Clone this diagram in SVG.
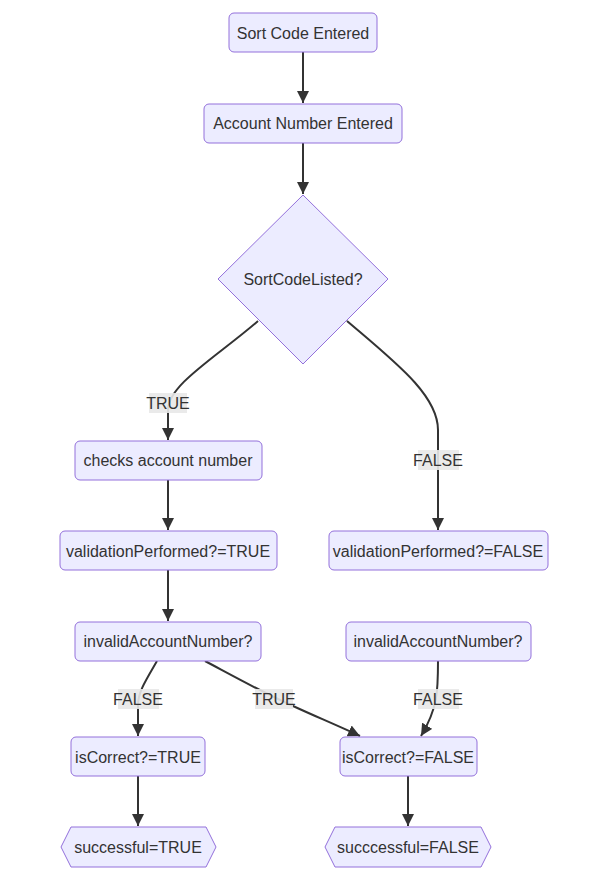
<svg xmlns="http://www.w3.org/2000/svg" width="601" height="881" viewBox="0 0 601 881">
<defs>
<marker id="arrow" viewBox="0 0 10 10" refX="10" refY="5" markerUnits="userSpaceOnUse" markerWidth="12" markerHeight="12" orient="auto">
<path d="M0,0 L10,5 L0,10 z" fill="#333333"/>
</marker>
</defs>
<style>
.node rect, .node polygon { fill: #ECECFF; stroke: #9370DB; stroke-width: 1; }
.node text { font-family: "Liberation Sans", Arial, sans-serif; font-size: 16px; fill: #333333; text-anchor: middle; dominant-baseline: central; }
.edge { fill: none; stroke: #333333; stroke-width: 2; marker-end: url(#arrow); }
.lbl rect { fill: #E8E8E8; opacity: 0.9; }
.lbl text { font-family: "Liberation Sans", Arial, sans-serif; font-size: 16px; fill: #333333; text-anchor: middle; dominant-baseline: central; }
</style>
<rect width="601" height="881" fill="#ffffff"/>
<g id="edges">
<path class="edge" d="M303,52 L303,103"/>
<path class="edge" d="M303,143 L303,194"/>
<path class="edge" d="M258,321 C215,358 168,385 168,410 L168,440"/>
<path class="edge" d="M347,321 C395,362 438,395 438,430 L438,530"/>
<path class="edge" d="M168,480 L168,530"/>
<path class="edge" d="M168,570 L168,621"/>
<path class="edge" d="M157,661 C146,680 138,692 138,705 L138,736"/>
<path class="edge" d="M205,661 C235,677 255,688 274,697 C300,710 330,722 360,736"/>
<path class="edge" d="M438,661 C438,690 438,708 421,736"/>
<path class="edge" d="M138,776 L138,826"/>
<path class="edge" d="M408,776 L408,826"/>
</g>
<g id="labels">
<g class="lbl"><rect x="149" y="393" width="38" height="20"/><text x="168" y="403">TRUE</text></g>
<g class="lbl"><rect x="418" y="450" width="41" height="20"/><text x="438" y="460">FALSE</text></g>
<g class="lbl"><rect x="118" y="689" width="41" height="20"/><text x="138" y="699">FALSE</text></g>
<g class="lbl"><rect x="255" y="689" width="38" height="20"/><text x="274" y="699">TRUE</text></g>
<g class="lbl"><rect x="418" y="689" width="41" height="20"/><text x="438" y="699">FALSE</text></g>
</g>
<g id="n1" class="node"><rect x="229" y="13" width="148" height="39" rx="5"/><text x="303" y="33">Sort Code Entered</text></g>
<g id="n2" class="node"><rect x="204" y="104" width="198" height="39" rx="5"/><text x="303" y="123">Account Number Entered</text></g>
<g id="n3" class="node"><polygon points="303,195 388,279 303,364 218,279"/><text x="303" y="279">SortCodeListed?</text></g>
<g id="n4" class="node"><rect x="75" y="441" width="187" height="39" rx="5"/><text x="168" y="460">checks account number</text></g>
<g id="n5" class="node"><rect x="60" y="531" width="217" height="39" rx="5"/><text x="168" y="551">validationPerformed?=TRUE</text></g>
<g id="n6" class="node"><rect x="75" y="622" width="186" height="39" rx="5"/><text x="168" y="641">invalidAccountNumber?</text></g>
<g id="n7" class="node"><rect x="71" y="737" width="134" height="39" rx="5"/><text x="138" y="757">isCorrect?=TRUE</text></g>
<g id="n8" class="node"><polygon points="61,847 71,827 206,827 216,847 206,867 71,867"/><text x="138" y="847">successful=TRUE</text></g>
<g id="n9" class="node"><rect x="329" y="531" width="219" height="39" rx="5"/><text x="438" y="551">validationPerformed?=FALSE</text></g>
<g id="n10" class="node"><rect x="346" y="622" width="185" height="39" rx="5"/><text x="438" y="641">invalidAccountNumber?</text></g>
<g id="n11" class="node"><rect x="340" y="737" width="137" height="39" rx="5"/><text x="408" y="757">isCorrect?=FALSE</text></g>
<g id="n12" class="node"><polygon points="325,847 335,827 481,827 491,847 481,867 335,867"/><text x="408" y="847">succcessful=FALSE</text></g>
</svg>
